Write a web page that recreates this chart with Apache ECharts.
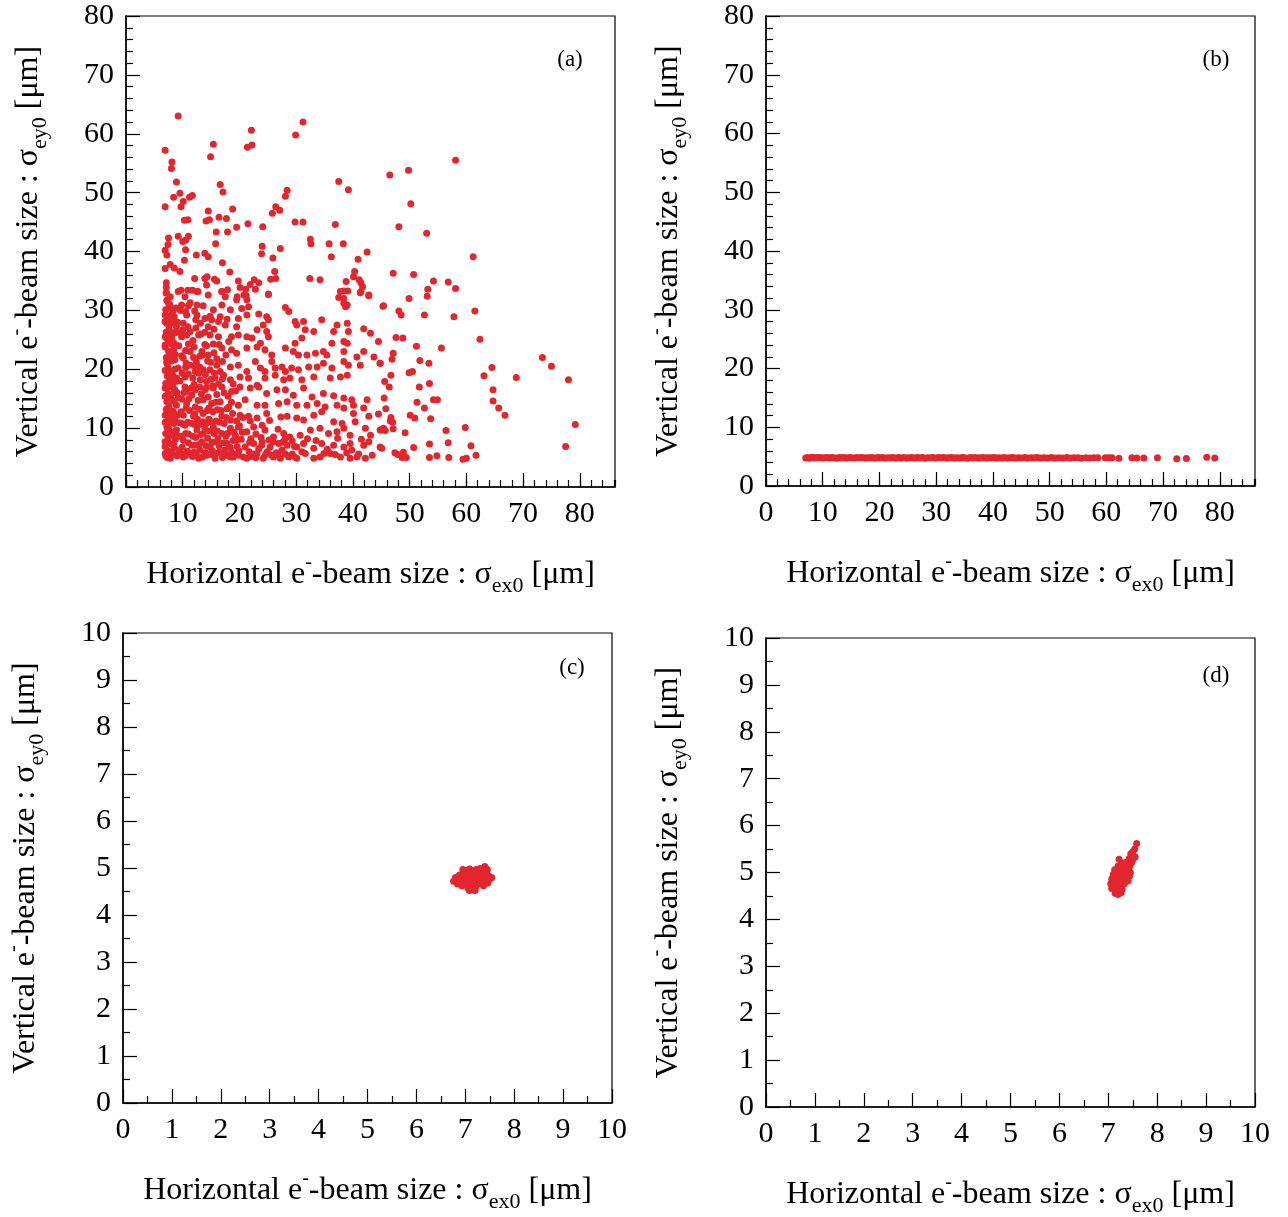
<!DOCTYPE html>
<html>
<head>
<meta charset="utf-8">
<script src="https://cdn.jsdelivr.net/npm/echarts@6/dist/echarts.min.js"></script>
<style>
html, body { margin: 0; padding: 0; background: #fff; }
#chart { width: 1288px; height: 1217px; }
</style>
</head>
<body>
<div id="chart"></div>
<script>
// panel (a): sparse points, upper part and right side
const sparseA = [
	[9.2,63.0],[6.9,57.2],[8.1,55.2],[8.0,54.1],[8.9,51.8],[15.4,58.2],[14.9,56.1],[22.1,60.6],[21.4,57.7],[22.2,58.1],
	[31.2,62.0],[29.9,59.8],[46.5,53.0],[37.5,51.9],[39.2,50.5],[28.4,50.4],[28.1,49.4],[16.6,51.4],[17.1,50.1],[6.9,47.6],
	[8.4,49.2],[9.5,49.9],[10.1,48.5],[9.7,47.6],[11.2,49.2],[11.7,49.5],[10.3,45.3],[10.9,45.4],[14.5,46.9],[14.1,45.2],
	[14.7,45.4],[16.4,45.8],[17.7,45.6],[18.8,47.2],[15.9,43.3],[17.9,43.3],[19.5,44.1],[21.5,44.7],[24.1,44.2],[25.8,46.5],
	[26.4,47.6],[27.1,47.0],[29.8,45.0],[31.2,45.0],[36.9,44.6],[9.2,42.6],[7.5,42.3],[11.0,42.6],[10.0,41.7],[10.5,41.9],
	[7.4,41.2],[6.9,40.2],[7.2,39.4],[10.5,40.3],[10.3,38.5],[15.8,41.3],[12.4,39.4],[13.9,39.7],[14.5,39.1],[17.0,38.1],
	[24.0,40.9],[23.9,39.6],[27.2,40.5],[25.9,38.9],[32.5,42.1],[32.6,41.3],[35.8,41.3],[38.3,41.3],[36.2,39.1],[42.5,39.9],
	[40.9,38.7],[6.9,37.1],[7.8,37.8],[8.5,37.2],[9.5,36.6],[18.3,36.5],[26.2,36.6],[25.5,35.3],[26.4,35.4],[32.4,35.4],
	[34.2,35.2],[40.3,36.6],[40.1,35.7],[41.1,35.2],[41.4,34.7],[38.8,34.9],[41.7,34.0],[41.4,33.2],[42.8,32.6],[38.4,33.3],
	[39.1,33.3],[37.5,32.2],[12.1,35.4],[13.9,35.4],[14.3,35.7],[15.6,35.3],[16.0,35.0],[14.2,34.3],[19.8,35.0],[21.9,34.4],
	[22.6,35.2],[23.4,34.7],[20.1,33.9],[21.1,33.6],[22.8,33.6],[25.1,32.7],[7.1,34.7],[7.1,33.9],[7.1,33.0],[9.7,33.4],
	[10.9,33.4],[11.7,33.4],[12.7,33.2],[16.9,33.2],[17.9,33.5],[21.2,32.5],
	[58.1,55.5],[49.8,53.8],[50.2,48.1],[48.1,44.2],[53.0,43.1],[61.2,39.1],[47.1,36.3],[50.7,36.1],[54.2,35.0],[56.8,34.8],
	[58.1,33.7],[53.2,33.6],[53.1,32.4],[49.9,32.0],[45.3,30.7],[48.1,29.9],[48.5,29.2],[52.6,29.2],[57.8,28.9],[61.5,29.9],
	[47.6,25.4],[48.8,25.3],[51.2,23.9],[55.6,23.6],[62.4,25.1],[47.1,22.7],[46.9,21.7],[51.8,21.5],[53.4,21.0],[73.4,22.0],
	[75.0,20.5],[64.5,20.3],[63.1,18.9],[68.8,18.6],[78.0,18.2],[44.8,21.0],[49.9,19.4],[50.5,19.6],[46.7,19.0],[45.6,17.9],
	[46.4,17.0],[51.7,17.0],[53.5,17.6],[64.7,16.5],[64.7,14.6],[65.7,13.4],[66.8,12.2],[45.5,15.1],[45.8,13.3],[51.3,14.4],
	[54.2,14.8],[54.9,14.8],[52.6,13.4],[50.1,12.2],[50.9,11.7],[46.7,11.8],[46.6,11.2],[47.0,11.0],[53.7,11.6],[79.2,10.6],
	[45.0,9.7],[45.7,9.6],[47.1,9.9],[49.2,9.2],[56.4,9.6],[59.8,10.1],[53.5,7.3],[56.8,7.5],[60.8,7.0],[77.5,6.9],
	[45.1,6.6],[50.7,6.7],[47.4,5.8],[47.9,5.5],[48.9,5.9],[48.7,5.0],[49.4,5.0],[53.5,5.0],[54.8,5.3],[56.9,5.0],
	[59.4,4.7],[60.0,4.9],[61.7,5.4]
]

// panel (a): dense lower-left block, read row by row
const denseA = [
	[7.1,32.9],[9.2,33.2],[10.4,32.3],[12.5,33.2],[14.5,32.6],[16.9,33.2],[17.5,32.3],[19.6,32.3],[20.8,32.6],[21.3,31.8],
	[25.1,32.8],[38.4,32.0],[37.8,33.2],[41.3,33.0],[42.8,32.5],[39.0,30.9],[45.4,30.8],
	[7.5,31.2],[8.1,30.3],[9.8,30.9],[11.3,31.3],[12.5,30.9],[15.4,30.1],[16.9,30.9],[18.4,30.1],[19.5,31.8],[20.4,30.3],
	[21.6,30.6],[28.1,30.5],[28.7,29.8],[38.4,31.2],[38.7,30.6],
	[6.9,29.2],[8.5,28.9],[10.7,29.2],[12.5,29.2],[13.9,28.6],[15.1,28.4],[16.6,28.9],[17.8,28.5],[19.8,28.6],[21.3,29.2],
	[23.4,29.4],[24.8,28.9],[25.1,28.4],[29.8,28.1],[31.3,28.1],[34.5,28.4],
	[7.2,27.8],[8.9,27.2],[10.1,27.8],[11.3,26.4],[13.1,27.8],[14.5,27.2],[16.3,28.1],[17.5,27.5],[19.5,27.2],[23.1,26.7],
	[24.2,27.5],[24.8,26.4],[30.1,27.5],[31.6,26.7],[33.1,26.4],[37.2,27.5],[39.0,27.8],[39.2,26.4],[41.9,26.9],[43.1,26.1],[36.6,26.4],
	[6.9,25.5],[8.1,25.0],[9.8,25.5],[10.7,25.8],[12.8,25.8],[14.8,25.8],[16.3,25.5],[18.1,24.7],[18.6,25.5],[19.8,25.8],
	[21.3,25.5],[22.2,25.3],[23.7,24.4],[25.1,25.5],[29.8,24.4],[31.0,25.3],[36.3,24.4],[38.4,24.7],[39.0,24.4],[44.5,24.7],
	[6.9,23.8],[8.4,23.3],[11.3,23.0],[13.4,23.0],[14.5,22.4],[16.9,23.6],[18.6,23.3],[19.5,22.7],[21.3,23.6],[23.1,23.8],
	[24.5,23.3],[25.7,22.4],[28.1,23.6],[29.5,23.0],[30.4,22.4],[31.9,22.4],[33.4,22.7],[34.8,23.0],[35.4,22.4],[38.4,23.0],
	[40.7,22.1],[41.9,23.0],[43.7,22.1],
	[7.2,21.3],[8.6,21.6],[10.1,21.9],[11.3,20.7],[12.2,19.6],[13.6,19.9],[14.8,19.9],[16.0,20.7],[18.4,20.4],[19.8,20.7],
	[21.3,19.6],[22.8,21.3],[23.7,20.2],[24.5,19.6],[25.7,21.3],[26.3,20.2],[27.5,20.4],[28.1,19.6],[29.2,20.2],[30.4,19.9],
	[32.2,20.4],[33.7,20.4],[34.8,21.0],[36.3,20.2],[38.4,21.3],[39.2,20.7],[41.3,20.7],[44.8,21.0],
	[7.5,19.0],[8.9,18.5],[10.4,18.7],[13.1,18.2],[14.2,17.9],[15.7,18.5],[17.2,19.0],[18.4,18.2],[20.1,18.7],[21.6,18.5],
	[23.1,17.3],[24.5,18.5],[26.3,19.0],[27.8,18.2],[28.9,18.5],[31.0,18.2],[33.1,18.7],[36.0,18.5],[37.8,18.7],[39.0,19.0],
	[6.9,16.8],[8.6,16.5],[10.4,17.0],[12.2,16.5],[13.9,16.5],[15.4,16.8],[16.9,17.0],[18.6,16.2],[20.1,17.0],[21.9,16.8],
	[23.4,17.0],[24.8,15.9],[26.6,16.5],[28.1,16.5],[29.5,15.6],[31.3,16.8],[32.8,15.3],[34.8,15.9],[36.6,15.5],[38.4,15.1],
	[39.8,14.8],[42.5,14.8],
	[7.2,14.5],[8.9,13.9],[10.7,14.2],[12.2,13.6],[13.6,14.8],[15.1,14.2],[16.6,14.5],[18.1,13.6],[19.8,13.9],[21.0,14.8],
	[23.1,13.9],[24.5,13.9],[26.9,14.2],[28.4,14.5],[30.1,13.9],[31.9,13.9],[33.7,14.2],[35.1,13.6],[37.2,13.9],[38.4,13.4],
	[40.1,13.9],[41.9,13.4],
	[6.9,12.2],[8.6,11.7],[10.1,12.2],[11.9,12.0],[13.6,12.5],[15.1,11.1],[16.9,12.0],[18.4,11.4],[20.1,12.2],[21.6,12.0],
	[23.1,11.7],[24.8,12.5],[28.4,12.0],[30.1,11.7],[31.3,11.4],[33.1,12.2],[34.5,12.8],[36.6,11.1],[38.1,10.8],[40.1,12.5],
	[40.4,11.1],[42.8,12.0],[44.5,12.4],
	[7.2,10.2],[8.9,9.7],[10.4,10.5],[12.5,9.7],[13.9,10.0],[15.4,10.2],[16.9,9.1],[18.4,10.0],[19.8,10.2],[21.3,9.4],
	[22.5,10.2],[24.5,9.7],[26.0,8.5],[27.8,9.1],[28.9,8.5],[30.7,8.8],[32.5,9.7],[34.2,10.0],[35.7,9.1],[37.2,9.4],
	[38.4,10.0],[39.5,8.8],[42.2,10.0],[43.1,8.8],[44.8,9.7],[45.4,10.0],
	[6.9,7.7],[8.4,7.4],[10.1,8.0],[11.6,7.1],[13.4,7.7],[14.8,6.8],[16.0,7.7],[17.8,7.4],[19.5,8.0],[21.0,6.8],
	[22.5,7.4],[24.0,7.7],[25.4,6.8],[26.9,7.4],[28.4,7.1],[30.1,6.8],[31.3,7.4],[33.1,6.6],[34.5,7.4],[36.6,7.1],
	[38.4,6.8],[39.5,7.4],[41.9,7.1],[42.8,7.7],[44.8,6.8],
	[6.9,5.7],[7.8,4.9],[8.9,5.4],[10.1,5.1],[11.3,5.7],[12.8,4.9],[14.2,5.4],[15.7,4.9],[16.9,5.7],[18.4,5.1],
	[19.8,5.4],[21.3,4.9],[23.1,5.7],[24.2,4.9],[25.7,5.4],[27.2,4.9],[28.7,5.1],[30.1,4.9],[31.6,5.7],[33.1,4.9],
	[34.2,5.1],[36.0,5.7],[37.8,5.1],[39.5,4.9],[40.7,5.1],[42.2,4.9],[43.4,5.4]
]

// panel (a): extra points where the block is solid
const fillA = [
	[7.0,5.3],[7.3,6.2],[6.9,6.9],[7.4,8.3],[7.0,9.1],[7.6,9.8],[6.9,11.0],[7.5,11.6],[7.1,13.2],[7.6,13.8],
	[6.9,15.4],[7.4,15.9],[7.0,17.6],[7.7,18.1],[6.9,19.8],[7.4,20.4],[7.1,22.0],[7.6,22.6],[6.9,24.1],[7.5,24.8],
	[7.1,26.3],[7.6,26.9],[6.9,28.1],[7.4,28.6],[7.0,30.1],[7.5,30.4],[7.2,31.7],[7.8,32.3],[8.0,6.0],[8.2,8.8],
	[8.1,11.3],[8.3,12.9],[8.0,15.0],[8.2,17.2],[8.1,19.6],[8.3,22.0],[8.0,24.3],[8.2,26.2],[8.1,27.9],[8.3,29.9],
	[9.3,6.3],[9.6,8.6],[9.4,10.9],[9.7,12.8],[9.2,15.2],[10.8,6.1],[11.0,9.0],[10.9,11.0],[11.2,13.0],[11.6,15.6],
	[12.0,5.9],[12.3,8.4],[12.1,10.6],[12.6,11.5],[13.0,6.3],[13.2,8.9],[13.5,11.1],[13.0,13.2],[14.0,5.8],[14.4,8.3],
	[14.6,11.5],[14.3,13.0],[15.2,6.2],[15.5,9.1],[15.3,12.8],[15.8,14.4],[16.4,5.9],[16.2,8.2],[16.5,11.0],[16.1,13.1],
	[17.4,6.3],[17.6,8.6],[17.3,10.8],[17.8,13.3],[18.6,5.9],[18.9,7.9],[19.0,9.3],[18.8,12.5],[19.9,6.1],[20.3,8.1],
	[20.0,10.4],[20.6,11.8],[21.7,6.0],[22.0,8.2],[22.4,5.6],[23.4,6.5],[23.8,8.4],[24.9,6.0],[25.2,8.0],[26.5,5.8],
	[27.5,6.3],[28.0,8.1],[29.3,5.6],[29.7,6.9],[31.0,6.0],[32.0,8.2],[33.5,7.9],[34.9,5.7],[35.5,6.4],[36.9,5.5],
	[37.3,8.3],[38.9,5.8],[39.8,6.3],[41.0,5.6],[41.5,8.1],
	[9.0,16.0],[9.5,18.0],[9.2,20.2],[9.8,22.3],[9.3,24.0],[9.6,26.2],[9.1,28.0],[9.6,30.0],[10.8,16.2],[11.0,19.2],
	[10.6,21.0],[11.0,24.3],[10.9,27.2],[10.5,29.8],[12.0,17.4],[12.4,21.2],[12.0,23.8],[12.3,27.0],[12.1,29.9],[13.3,15.8],
	[13.0,20.4],[13.5,22.4],[13.2,26.0],[14.2,16.9],[14.0,19.1],[14.4,21.4],[14.2,24.0],[15.3,17.2],[15.6,19.3],[16.0,21.8],
	[16.4,24.2],[17.3,16.0],[17.0,18.4],[17.6,22.4]
]

// panel (a): more of the solid lower-left corner
const fillA2 = [
	[7.3,5.0],[7.8,5.6],[8.5,6.6],[7.2,7.6],[8.0,7.3],[8.7,8.1],[7.7,8.9],[8.6,9.4],[7.3,10.6],[8.4,10.8],
	[7.8,12.4],[8.7,12.3],[7.3,12.9],[8.5,14.6],[7.8,14.9],[7.3,16.9],[8.4,16.0],[7.9,17.0],[8.7,17.9],[7.3,18.8],
	[8.3,18.9],[7.8,19.4],[8.6,20.0],[7.2,21.0],[8.0,21.4],[8.7,22.5],[7.5,23.1],[8.5,24.4],[7.2,25.3],[8.0,25.6],
	[8.7,26.2],[7.6,27.5],[8.5,28.0],[7.2,29.0],[8.0,29.3],[8.8,30.4],[7.7,31.0],
	[9.0,5.3],[9.8,5.7],[10.5,5.3],[11.7,5.2],[12.4,5.5],[13.5,5.1],[14.9,5.5],[15.8,5.6],[17.0,5.0],[17.8,5.4],
	[18.9,5.1],[19.4,5.5],[9.9,6.8],[11.0,7.5],[12.1,7.1],[12.9,7.2],[14.1,7.0],[15.2,7.6],[16.4,7.0],[17.2,7.5],
	[18.4,6.7],[19.6,6.9],[9.2,8.6],[10.5,9.1],[11.8,8.6],[13.6,9.1],[14.7,9.5],[16.1,9.5],[17.9,9.1],[19.3,8.7],
	[9.9,10.8],[11.6,10.8],[12.9,10.6],[14.3,10.9],[15.9,11.2],[17.7,11.8],[19.5,11.2],[9.0,12.2],[10.6,13.4],[12.1,12.4],
	[14.6,13.4],[16.8,13.0],[18.6,14.4],[9.9,14.9],[11.1,15.0],[12.7,14.7],[14.5,15.3],[16.0,15.7],[18.0,15.4],[19.3,16.3],
	[10.2,16.0],[11.5,16.8],[13.0,17.0],[16.3,17.5],[18.9,17.5],[9.9,19.3],[11.8,18.5],[12.8,19.3],[15.0,18.3],[16.6,19.6],
	[10.5,20.3],[12.0,20.6],[14.9,21.2],[17.0,21.3],[11.9,22.0],[13.0,22.2],[15.5,22.8],[10.5,23.2],[13.9,24.2],[15.4,24.3],
	[11.8,24.9],[10.0,26.7],[13.9,26.3],[15.5,26.8],[12.3,28.4],[14.8,29.0],[11.0,30.8],[13.6,30.8],
	[20.7,5.1],[22.0,5.2],[22.9,5.0],[24.6,5.5],[26.0,5.1],[26.8,5.5],[28.1,5.6],[29.6,5.2],[21.8,7.6],[23.9,7.1],
	[25.9,7.7],[27.6,7.6],[29.3,7.8],[20.5,9.3],[22.9,9.0],[24.0,10.5],[26.8,9.8],[21.9,11.2],[25.3,11.3],[27.3,11.9]
]

// panel (b): corrected beam sizes, a thin band near 4.8
const lineB = [
	[7.0,4.78],[7.3,4.85],[7.6,4.74],[7.9,4.82],[8.2,4.88],[8.5,4.76],[8.9,4.83],[9.2,4.79],[9.6,4.86],[10.0,4.75],
	[10.4,4.81],[10.8,4.87],[11.2,4.77],[11.6,4.84],[12.0,4.80],[12.5,4.74],[12.9,4.86],[13.3,4.79],[13.8,4.83],[14.2,4.76],
	[14.7,4.85],[15.1,4.80],[15.6,4.77],[16.0,4.84],[16.5,4.79],[16.9,4.86],[17.4,4.75],[17.8,4.82],[18.3,4.80],[18.7,4.87],
	[19.2,4.76],[19.7,4.83],[20.1,4.79],[20.6,4.85],[21.0,4.77],[21.5,4.82],[22.0,4.80],[22.4,4.86],[22.9,4.75],[23.4,4.83],
	[23.8,4.78],[24.3,4.84],[24.8,4.77],[25.2,4.81],[25.7,4.86],[26.2,4.76],[26.6,4.83],[27.1,4.79],[27.6,4.85],[28.0,4.74],
	[28.5,4.82],[29.0,4.80],[29.4,4.87],[29.9,4.76],[30.4,4.83],[30.8,4.79],[31.3,4.84],[31.8,4.75],[32.2,4.81],[32.7,4.86],
	[33.2,4.78],[33.6,4.82],[34.1,4.77],[34.6,4.85],[35.0,4.80],[35.5,4.74],[36.0,4.83],[36.4,4.79],[36.9,4.86],[37.4,4.76],
	[37.8,4.81],[38.3,4.84],[38.8,4.77],[39.2,4.82],[39.7,4.79],[40.2,4.85],[40.6,4.75],[41.1,4.81],[41.6,4.78],[42.0,4.84],
	[42.5,4.76],[43.0,4.80],[43.5,4.83],[44.0,4.77],[44.5,4.81],[45.0,4.78],[45.6,4.84],[46.1,4.76],[46.7,4.82],[47.3,4.79],
	[47.8,4.85],[48.4,4.77],[49.0,4.81],[49.6,4.78],[50.3,4.83],[50.9,4.76],[51.6,4.80],[52.3,4.78],[53.0,4.84],[53.6,4.77],
	[54.3,4.81],[55.0,4.79],[55.6,4.74],[56.4,4.80],[57.1,4.76],[57.8,4.82],[58.5,4.79],[59.8,4.82],[60.4,4.80],[61.0,4.81],
	[62.2,4.72],[64.5,4.80],[65.4,4.78],[66.6,4.75],[69.0,4.80],[72.4,4.62],[74.1,4.66],[77.7,4.90],[79.1,4.78]
]

// panel (c): round blob around (7.15, 4.76)
const blobC = [
	[6.76,4.72],[6.80,4.80],[6.84,4.66],[6.88,4.85],[6.90,4.74],[6.93,4.62],[6.96,4.90],[6.98,4.78],[7.00,4.68],[7.02,4.95],
	[7.04,4.84],[7.05,4.58],[7.07,4.73],[7.09,4.98],[7.10,4.88],[7.12,4.64],[7.13,4.79],[7.15,4.54],[7.16,4.92],[7.18,4.70],
	[7.19,4.84],[7.21,4.60],[7.22,4.97],[7.24,4.76],[7.26,4.88],[7.27,4.66],[7.29,4.94],[7.31,4.80],[7.33,4.71],[7.35,4.90],
	[7.37,4.62],[7.38,4.85],[7.40,5.03],[7.42,4.75],[7.44,4.92],[7.46,4.68],[7.48,4.83],[7.51,4.77],[7.54,4.80],[7.08,4.52],
	[7.20,4.52],[6.95,4.97],[7.30,4.99],[7.45,4.97]
]

// panel (d): blob with a tail up to the right
const blobD = [
	[7.58,5.62],[7.54,5.50],[7.50,5.44],[7.46,5.40],[7.55,5.33],[7.50,5.28],[7.22,5.28],[7.43,5.30],[7.48,5.22],[7.36,5.22],
	[7.28,5.20],[7.44,5.14],[7.20,5.14],[7.32,5.12],
	[7.13,5.06],[7.20,5.03],[7.27,5.07],[7.34,5.02],[7.41,5.06],[7.45,5.00],
	[7.10,4.96],[7.17,4.93],[7.24,4.97],[7.31,4.94],[7.38,4.96],[7.43,4.92],
	[7.07,4.86],[7.14,4.83],[7.21,4.87],[7.28,4.84],[7.35,4.86],[7.40,4.82],
	[7.05,4.76],[7.12,4.73],[7.19,4.77],[7.26,4.74],[7.33,4.76],
	[7.07,4.66],[7.14,4.63],[7.21,4.67],[7.28,4.64],
	[7.14,4.56],[7.20,4.53],[7.26,4.57]
]

const rangeWideX = [0, 86.2]
const rangeWideY = [0, 80]
const rangeZoom = [0, 10]
const panelTags = ['(a)', '(b)', '(c)', '(d)']

const RED = '#e3262e'
const FONT = 'Liberation Serif'

const grids = [
	{ left: 126, top: 16, width: 489, height: 471 },
	{ left: 766, top: 16, width: 489, height: 470 },
	{ left: 123, top: 633, width: 489, height: 470 },
	{ left: 766, top: 638, width: 489, height: 469 }
]
const tagPos = [[570, 60], [1216, 60], [572, 668], [1216, 676]]

const nameRich = {
	m: { fontFamily: FONT, fontSize: 32, lineHeight: 44, color: '#000' },
	sup: { fontFamily: FONT, fontSize: 20, lineHeight: 34, verticalAlign: 'top', color: '#000' },
	sub: { fontFamily: FONT, fontSize: 22, lineHeight: 22, verticalAlign: 'bottom', color: '#000' }
}
const xName = '{m|Horizontal e}{sup|-}{m|-beam size : σ}{sub|ex0}{m| [μm]}'
const yName = '{m|Vertical e}{sup|-}{m|-beam size : σ}{sub|ey0}{m| [μm]}'

const tickLine = { color: '#000', width: 1.2 }
const labelStyle = { show: true, margin: 12, fontFamily: FONT, fontSize: 30, color: '#000' }

function majorX(gi, range, interval, minorSplit) {
	return {
		gridIndex: gi, type: 'value', position: 'bottom', min: range[0], max: range[1], interval: interval,
		axisLine: { show: true, onZero: false, lineStyle: { color: '#000', width: 1.5 } },
		axisTick: { show: true, inside: true, length: 14, lineStyle: tickLine },
		minorTick: { show: minorSplit > 0, splitNumber: minorSplit || 1, length: 7, lineStyle: tickLine },
		axisLabel: Object.assign({ showMaxLabel: range[1] % interval === 0 }, labelStyle),
		splitLine: { show: false },
		name: xName, nameLocation: 'middle', nameGap: 66, nameTextStyle: { rich: nameRich }
	}
}
function minorX(gi, range) {
	return {
		gridIndex: gi, type: 'value', position: 'bottom', min: range[0], max: range[1], interval: 2,
		axisLine: { show: false },
		axisTick: { show: true, inside: true, length: 7, lineStyle: tickLine },
		axisLabel: { show: false },
		splitLine: { show: false }
	}
}
function yAx(gi, range, interval, minorSplit) {
	return {
		gridIndex: gi, type: 'value', position: 'left', min: range[0], max: range[1], interval: interval,
		axisLine: { show: true, onZero: false, lineStyle: { color: '#000', width: 1.5 } },
		axisTick: { show: true, inside: true, length: 14, lineStyle: tickLine },
		minorTick: { show: true, splitNumber: minorSplit, length: 7, lineStyle: tickLine },
		axisLabel: Object.assign({ padding: [5, 0, 0, 0] }, labelStyle),
		splitLine: { show: false },
		name: yName, nameLocation: 'middle', nameGap: 75, nameTextStyle: { rich: nameRich }
	}
}

const chart = echarts.init(document.getElementById('chart'))
const chartOption = {
	backgroundColor: '#fff',
	animation: false,
	grid: grids.map(g => Object.assign({ show: true, borderColor: '#000', borderWidth: 1.2, backgroundColor: 'transparent', outerBoundsMode: 'none' }, g)),
	xAxis: [
		majorX(0, rangeWideX, 10, 0), minorX(0, rangeWideX),
		majorX(1, rangeWideX, 10, 0), minorX(1, rangeWideX),
		majorX(2, rangeZoom, 1, 2),
		majorX(3, rangeZoom, 1, 2)
	],
	yAxis: [
		yAx(0, rangeWideY, 10, 5),
		yAx(1, rangeWideY, 10, 5),
		yAx(2, rangeZoom, 1, 2),
		yAx(3, rangeZoom, 1, 2)
	],
	graphic: panelTags.map((t, i) => ({
		type: 'text', x: tagPos[i][0], y: tagPos[i][1],
		style: { text: t, font: '23px "Liberation Serif"', fill: '#000', align: 'center', verticalAlign: 'middle' }
	})),
	series: [
		{ type: 'scatter', xAxisIndex: 0, yAxisIndex: 0, data: sparseA.concat(denseA, fillA, fillA2) },
		{ type: 'scatter', xAxisIndex: 2, yAxisIndex: 1, data: lineB },
		{ type: 'scatter', xAxisIndex: 4, yAxisIndex: 2, data: blobC },
		{ type: 'scatter', xAxisIndex: 5, yAxisIndex: 3, data: blobD }
	].map(s => Object.assign({ symbol: 'circle', symbolSize: 7, silent: true, itemStyle: { color: RED, opacity: 1 } }, s))
}
chart.setOption(chartOption)
</script>
</body>
</html>
